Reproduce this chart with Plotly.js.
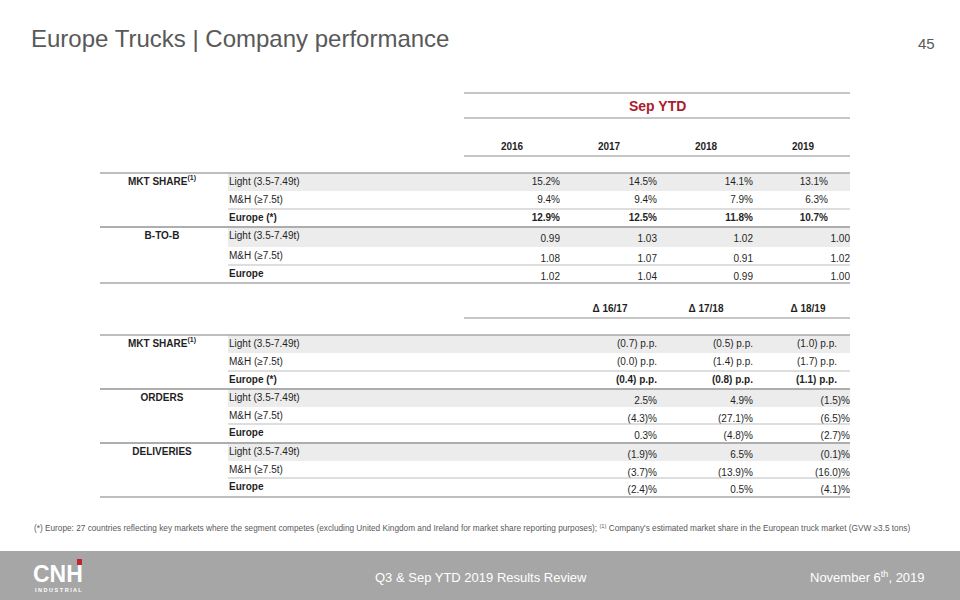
<!DOCTYPE html>
<html><head><meta charset="utf-8">
<script src="https://cdn.plot.ly/plotly-3.0.1.min.js"></script>
<style>html,body{margin:0;padding:0;background:#fff;}#chart{width:960px;height:600px;}</style>
</head><body><div id="chart"></div>
<script>
// ---------------- data ----------------
const years = ['2016', '2017', '2018', '2019'];
const deltaPeriods = ['Δ 16/17', 'Δ 17/18', 'Δ 18/19'];
const segmentLabelsShare = ['Light (3.5-7.49t)', 'M&H (≥7.5t)', 'Europe (*)'];
const segmentLabels = ['Light (3.5-7.49t)', 'M&H (≥7.5t)', 'Europe'];
const sectionNames = ['MKT SHARE<sup>(1)</sup>', 'B-TO-B', 'MKT SHARE<sup>(1)</sup>', 'ORDERS', 'DELIVERIES'];

const shareLight = [15.2, 14.5, 14.1, 13.1];
const shareMH = [9.4, 9.4, 7.9, 6.3];
const shareEurope = [12.9, 12.5, 11.8, 10.7];
const b2bLight = [0.99, 1.03, 1.02, 1.00];
const b2bMH = [1.08, 1.07, 0.91, 1.02];
const b2bEurope = [1.02, 1.04, 0.99, 1.00];

const shareDeltaLight = [-0.7, -0.5, -1.0];
const shareDeltaMH = [-0.0, -1.4, -1.7];
const shareDeltaEurope = [-0.4, -0.8, -1.1];
const ordersLight = [2.5, 4.9, -1.5];
const ordersMH = [-4.3, -27.1, -6.5];
const ordersEurope = [0.3, -4.8, -2.7];
const deliveriesLight = [-1.9, 6.5, -0.1];
const deliveriesMH = [-3.7, -13.9, -16.0];
const deliveriesEurope = [-2.4, 0.5, -4.1];

// ---------------- formatting ----------------
const isNeg = v => v < 0 || Object.is(v, -0);
const fmtPct = v => v.toFixed(1) + '%';
const fmtRatio = v => v.toFixed(2);
const fmtPP = v => isNeg(v) ? '(' + Math.abs(v).toFixed(1) + ') p.p.' : v.toFixed(1) + ' p.p.';
const fmtChg = v => isNeg(v) ? '(' + Math.abs(v).toFixed(1) + ')%' : v.toFixed(1) + '%';

// ---------------- geometry / styles ----------------
const FONT = 'Liberation Sans, Arial, sans-serif';
const TXT = '#1f1f1f';
const GEO = { left: 100, band: 228, labelX: 229, right: 850, headLeft: 464, sectionX: 162 };
const yearCenters = [512, 609, 706, 803];
const deltaCenters = [610, 706, 808];

const sections = [
  { tops: [173, 191, 209, 227], labels: segmentLabelsShare, rows: [shareLight, shareMH, shareEurope], fmt: fmtPct, cols: [560, 657, 753, 828], valDy: 9, boldEurope: true },
  { tops: [227, 247, 265, 283], labels: segmentLabels, rows: [b2bLight, b2bMH, b2bEurope], fmt: fmtRatio, cols: [560, 657, 753, 850], valDy: 12, boldEurope: false },
  { tops: [335, 353, 371, 389], labels: segmentLabelsShare, rows: [shareDeltaLight, shareDeltaMH, shareDeltaEurope], fmt: fmtPP, cols: [657, 753, 837], valDy: 9, boldEurope: true },
  { tops: [389, 407, 424, 443], labels: segmentLabels, rows: [ordersLight, ordersMH, ordersEurope], fmt: fmtChg, cols: [657, 753, 850], valDy: 12, boldEurope: false },
  { tops: [443, 461, 478, 497], labels: segmentLabels, rows: [deliveriesLight, deliveriesMH, deliveriesEurope], fmt: fmtChg, cols: [657, 753, 850], valDy: 12, boldEurope: false }
];

const traces = [];
function textTrace(x, y, text, pos, size, color) {
  traces.push({
    type: 'scatter', mode: 'text', x: x, y: y, text: text,
    textposition: pos, cliponaxis: false, hoverinfo: 'skip', showlegend: false,
    textfont: { family: FONT, size: size, color: color }
  });
}

const shapes = [];
function hline(y, x0, x1, color, w) {
  shapes.push({ type: 'line', xref: 'x', yref: 'y', x0: x0, x1: x1, y0: y, y1: y, line: { color: color, width: w }, layer: 'above' });
}
function rect(x0, x1, y0, y1, color, layer) {
  shapes.push({ type: 'rect', xref: 'x', yref: 'y', x0: x0, x1: x1, y0: y0, y1: y1, fillcolor: color, line: { width: 0 }, layer: layer || 'below' });
}

// header
hline(93, GEO.headLeft, GEO.right, '#b3b3b3', 1.5);
hline(118, GEO.headLeft, GEO.right, '#b3b3b3', 1.5);
hline(156, GEO.headLeft, GEO.right, '#b3b3b3', 1.5);
hline(318, GEO.headLeft, GEO.right, '#b3b3b3', 1.5);
textTrace(yearCenters, years.map(() => 147), years.map(s => '<b>' + s + '</b>'), 'middle center', 10, TXT);
textTrace(deltaCenters, deltaPeriods.map(() => 309), deltaPeriods.map(s => '<b>' + s + '</b>'), 'middle center', 10, TXT);

// sections
sections.forEach((sec, si) => {
  const t = sec.tops;
  rect(GEO.band, GEO.right, t[0], t[1], '#ececec');
  hline(t[0], GEO.left, GEO.right, '#a8a8a8', 1.5);
  hline(t[3], GEO.left, GEO.right, '#a8a8a8', 1.5);
  hline(t[2], GEO.band, GEO.right, '#bdbdbd', 1.2);
  textTrace([GEO.sectionX], [t[0] + 9], ['<b>' + sectionNames[si] + '</b>'], 'middle center', 10, TXT);
  textTrace(sec.labels.map(() => GEO.labelX), [0, 1, 2].map(r => t[r] + 9),
    sec.labels.map((s, r) => r === 2 ? '<b>' + s + '</b>' : s), 'middle right', 10, TXT);
  sec.rows.forEach((vals, r) => {
    const bold = r === 2 && sec.boldEurope;
    textTrace(sec.cols.slice(0, vals.length), vals.map(() => t[r] + sec.valDy),
      vals.map(v => bold ? '<b>' + sec.fmt(v) + '</b>' : sec.fmt(v)), 'middle left', 10, TXT);
  });
});

// footer band and logo mark
rect(0, 960, 551, 600, '#a6a6a6', 'below');
rect(77, 82, 559, 565, '#c8202f', 'above');

const annotations = [
  { text: 'Europe Trucks | Company performance', x: 30, y: 38, xanchor: 'left', yanchor: 'middle', font: { family: FONT, size: 24, color: '#595959' } },
  { text: '45', x: 936, y: 43, xanchor: 'right', yanchor: 'middle', font: { family: FONT, size: 15, color: '#595959' } },
  { text: '<b>Sep YTD</b>', x: 657, y: 106, xanchor: 'center', yanchor: 'middle', font: { family: FONT, size: 14, color: '#ab1c2c' } },
  { text: '(*) Europe: 27 countries reflecting key markets where the segment competes (excluding United Kingdom and Ireland for market share reporting purposes); <sup>(1)</sup> Company\'s estimated market share in the European truck market (GVW ≥3.5 tons)', x: 33, y: 528, xanchor: 'left', yanchor: 'middle', font: { family: FONT, size: 8.25, color: '#595959' } },
  { text: 'Q3 & Sep YTD 2019 Results Review', x: 481, y: 577, xanchor: 'center', yanchor: 'middle', font: { family: FONT, size: 13, color: '#ffffff' } },
  { text: 'November 6<sup>th</sup>, 2019', x: 926, y: 577, xanchor: 'right', yanchor: 'middle', font: { family: FONT, size: 13, color: '#ffffff' } },
  { text: '<b>CNH</b>', x: 32, y: 574, xanchor: 'left', yanchor: 'middle', font: { family: FONT, size: 23, color: '#ffffff' } },
  { text: '<b>I N D U S T R I A L</b>', x: 34, y: 590, xanchor: 'left', yanchor: 'middle', font: { family: FONT, size: 5.5, color: '#ffffff' } }
].map(a => Object.assign({ xref: 'x', yref: 'y', showarrow: false, borderpad: 0 }, a));

const layout = {
  width: 960, height: 600,
  margin: { l: 0, r: 0, t: 0, b: 0 },
  paper_bgcolor: '#ffffff', plot_bgcolor: '#ffffff',
  xaxis: { range: [0, 960], visible: false, fixedrange: true },
  yaxis: { range: [600, 0], visible: false, fixedrange: true },
  showlegend: false,
  shapes: shapes,
  annotations: annotations
};

Plotly.newPlot('chart', traces, layout, { staticPlot: true, displayModeBar: false });
</script>
</body></html>
